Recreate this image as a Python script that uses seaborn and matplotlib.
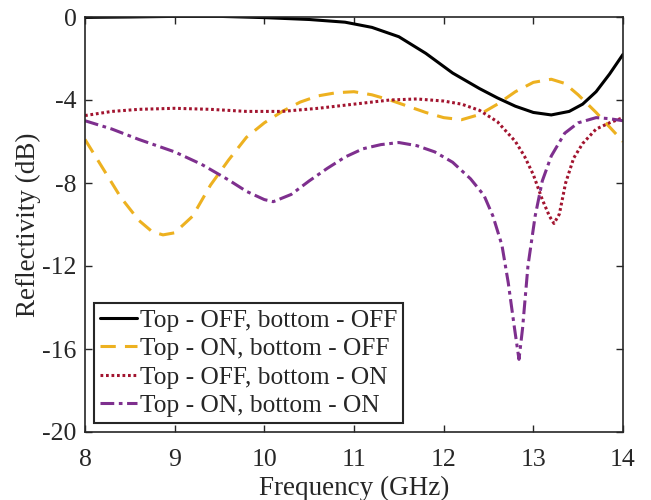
import numpy as np
import pandas as pd
import matplotlib
matplotlib.use("Agg")
import matplotlib.pyplot as plt
import seaborn as sns

# ---- data ----
f_black = [8.0, 8.5, 9.0, 9.5, 10.0, 10.5, 10.9, 11.2, 11.5, 11.8, 12.1, 12.4, 12.6, 12.8, 13.0, 13.2, 13.4, 13.55, 13.7, 13.85, 14.0]
r_black = [-0.02, 0.0, 0.03, 0.03, -0.03, -0.12, -0.25, -0.5, -0.95, -1.75, -2.7, -3.45, -3.9, -4.3, -4.6, -4.72, -4.55, -4.2, -3.6, -2.75, -1.8]

f_yellow = [8.0, 8.2, 8.4, 8.6, 8.75, 8.87, 9.0, 9.2, 9.4, 9.6, 9.8, 10.0, 10.2, 10.4, 10.6, 10.8, 11.0, 11.2, 11.4, 11.6, 11.8, 12.0, 12.2, 12.4, 12.6, 12.8, 13.0, 13.2, 13.35, 13.5, 13.7, 13.85, 14.0]
r_yellow = [-5.9, -7.3, -8.7, -9.8, -10.35, -10.5, -10.4, -9.6, -8.1, -6.9, -5.8, -5.1, -4.55, -4.1, -3.8, -3.65, -3.6, -3.75, -4.0, -4.3, -4.6, -4.85, -4.95, -4.7, -4.2, -3.6, -3.15, -3.0, -3.2, -3.75, -4.6, -5.3, -6.0]

f_red = [8.0, 8.3, 8.6, 9.0, 9.4, 9.8, 10.2, 10.6, 11.0, 11.4, 11.7, 12.0, 12.2, 12.4, 12.6, 12.8, 12.9, 13.0, 13.1, 13.18, 13.23, 13.29, 13.36, 13.45, 13.55, 13.7, 13.85, 14.0]
r_red = [-4.75, -4.55, -4.45, -4.4, -4.45, -4.55, -4.55, -4.4, -4.2, -4.0, -3.95, -4.05, -4.2, -4.5, -5.05, -6.0, -6.7, -7.6, -8.8, -9.6, -9.95, -9.5, -8.0, -6.8, -6.1, -5.4, -5.1, -4.85]

f_purple = [8.0, 8.3, 8.6, 9.0, 9.3, 9.6, 9.8, 10.0, 10.1, 10.3, 10.5, 10.7, 10.9, 11.1, 11.3, 11.5, 11.7, 11.9, 12.1, 12.3, 12.45, 12.55, 12.65, 12.72, 12.79, 12.84, 12.88, 12.94, 13.02, 13.1, 13.2, 13.35, 13.5, 13.7, 13.85, 14.0]
r_purple = [-5.0, -5.4, -5.9, -6.5, -7.1, -7.85, -8.4, -8.8, -8.9, -8.55, -7.9, -7.3, -6.75, -6.35, -6.15, -6.05, -6.2, -6.5, -7.0, -7.8, -8.6, -9.6, -11.0, -12.8, -15.0, -16.5, -15.0, -12.0, -9.6, -7.9, -6.7, -5.6, -5.1, -4.85, -4.9, -5.0]

labels = ["Top - OFF, bottom - OFF", "Top - ON, bottom - OFF",
          "Top - OFF, bottom - ON", "Top - ON, bottom - ON"]
x_ticks = [8, 9, 10, 11, 12, 13, 14]
y_ticks = [-20, -16, -12, -8, -4, 0]

series = [(f_black, r_black), (f_yellow, r_yellow), (f_red, r_red), (f_purple, r_purple)]
colors = ["#000000", "#EDB120", "#A2142F", "#7E2F8E"]
styles = ["-", (0, (5, 3)), (0, (0.9, 0.9)), (0, (4.5, 1.5, 1.2, 1.5))]

sns.set_theme(style="white")
plt.rcParams["font.family"] = ["Liberation Serif", "DejaVu Serif"]
plt.rcParams["mathtext.fontset"] = "stix"

fig = plt.figure(figsize=(6.51, 5.0), dpi=100)
ax = fig.add_axes([85 / 651, 1 - 432 / 500, 538 / 651, 415 / 500])

for (f, r), lab, c, ls in zip(series, labels, colors, styles):
    df = pd.DataFrame({"Frequency": f, "Reflectivity": r})
    sns.lineplot(data=df, x="Frequency", y="Reflectivity", ax=ax, color=c,
                 linestyle=ls, linewidth=2.2, label=lab, estimator=None, sort=False)

ax.set_xlim(8, 14)
ax.set_ylim(-20, 0)
ax.set_xticks(x_ticks)
ax.set_yticks(y_ticks)
ax.set_xticklabels([str(t) for t in x_ticks])
ax.set_yticklabels([str(t) for t in y_ticks])
ax.set_xlabel("Frequency (GHz)", fontsize=19.5, color="#262626", labelpad=3)
ax.set_ylabel("Reflectivity (dB)", fontsize=19.5, color="#262626", labelpad=1)
ax.tick_params(direction="in", length=5, width=1.0, colors="#262626",
               labelsize=18.5, top=True, right=True, bottom=True, left=True, pad=6)
ax.tick_params(axis="x", pad=12.5)
for s in ax.spines.values():
    s.set_visible(True)
    s.set_color("#262626")
    s.set_linewidth(1.2)

leg = ax.legend(loc="lower left", bbox_to_anchor=(0.0167, 0.0217), fontsize=18.3,
                frameon=True, fancybox=False, framealpha=1, edgecolor="#262626",
                handlelength=1.44, handletextpad=0.12, borderpad=0.24,
                labelspacing=0.22, borderaxespad=0)
leg.get_frame().set_linewidth(1.5)

fig.savefig("out.png", dpi=100)
